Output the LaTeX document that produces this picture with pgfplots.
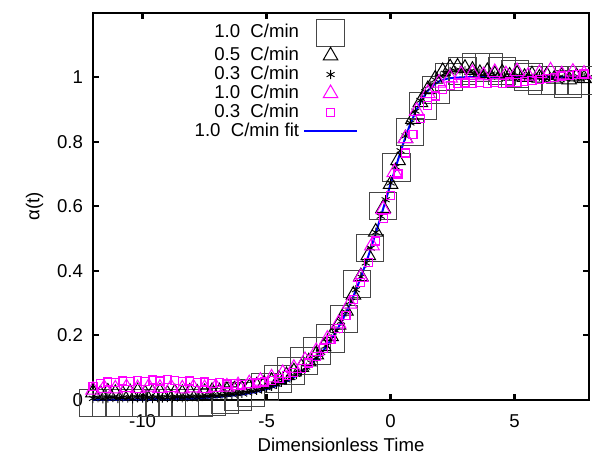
\documentclass[border=0pt]{standalone}
\usepackage{fontspec}
\setmainfont{Liberation Sans}
\usepackage{pgfplots}
\pgfplotsset{compat=1.18}
\definecolor{sqgray}{RGB}{70,70,70}
\definecolor{gmag}{RGB}{255,0,255}
\definecolor{gblue}{RGB}{0,0,255}
\pgfplotsset{
  marklegend/.style={legend image code/.code={\draw[mark repeat=2,mark phase=2,##1] plot coordinates {(0pt,0pt) (13.25pt,0pt) (26.5pt,0pt)};}},
  linelegend/.style={legend image code/.code={\draw[##1] (0pt,0pt) -- (26.5pt,0pt);}},
}
\begin{document}
\begin{tikzpicture}[font=\fontsize{9.3}{11}\selectfont]
\begin{axis}[
  scale only axis,
  width=248pt, height=193.5pt,
  xmin=-12, xmax=8, ymin=0, ymax=1.2,
  xtick={-10,-5,0,5},
  ytick={0,0.2,0.4,0.6,0.8,1},
  yticklabels={0,0.2,0.4,0.6,0.8,1},
  tick align=inside,
  major tick length=3pt,
  minor tick num=0,
  axis line style={line width=1.2pt},
  every tick/.style={line width=1.2pt, black},
  /pgf/number format/assume math mode=true,
  xticklabel shift=4pt,
  yticklabel shift=1.5pt,
  xlabel={Dimensionless Time},
  ylabel={α(t)},
  xlabel style={yshift=1.6pt},
  clip=false,
  legend plot pos=right,
  legend cell align=right,
  legend style={at={(0.184,0.995)}, anchor=north west, draw=none, fill=none,
    nodes={inner ysep=0.6pt, inner xsep=2pt}, row sep=0pt},
]
\coordinate (SW) at (rel axis cs:0,0);
\coordinate (NE) at (rel axis cs:1,1);

% 1.0 C/min (large grey squares)
\addplot[only marks, mark=square, mark size=6.8pt, mark options={draw=sqgray, line width=0.5pt}, marklegend] coordinates {
(-12.00,-0.010) (-11.47,-0.010) (-10.94,-0.010) (-10.40,-0.010) (-9.87,-0.010)
(-9.34,-0.010) (-8.81,-0.010) (-8.28,-0.010) (-7.74,-0.010) (-7.21,-0.006)
(-6.68,0.000) (-6.15,0.010) (-5.62,0.020) (-5.08,0.040) (-4.55,0.065)
(-4.02,0.090) (-3.49,0.120) (-2.96,0.150) (-2.42,0.190) (-1.89,0.250)
(-1.36,0.360) (-0.83,0.470) (-0.30,0.600) (0.24,0.720) (0.77,0.830)
(1.30,0.910) (1.83,0.960) (2.36,1.000) (2.90,1.020) (3.43,1.030)
(3.96,1.030) (4.49,1.020) (5.02,1.010) (5.56,1.000) (6.09,0.990)
(6.62,0.990) (7.15,0.980) (7.68,0.990)
};
\addlegendentry{1.0\ \ C/min}

% 0.5 C/min (black triangles)
\addplot[only marks, mark=triangle, mark size=4.2pt, mark options={draw=black, line width=0.5pt}, marklegend] coordinates {
(-12.0,0.022) (-11.7,0.018) (-11.4,0.024) (-11.1,0.020) (-10.8,0.017) (-10.5,0.022)
(-10.2,0.025) (-9.9,0.019) (-9.6,0.021) (-9.3,0.024) (-9.0,0.018) (-8.7,0.022)
(-8.4,0.020) (-8.1,0.024) (-7.8,0.021) (-7.5,0.023) (-7.2,0.026) (-6.9,0.025)
(-6.6,0.029) (-6.3,0.031) (-6.0,0.034) (-5.7,0.038) (-5.4,0.043) (-5.1,0.049)
(-4.8,0.057) (-4.5,0.064) (-4.2,0.075) (-3.9,0.087) (-3.6,0.101) (-3.3,0.118)
(-3.0,0.140) (-2.7,0.165) (-2.4,0.196) (-2.1,0.232) (-1.8,0.275) (-1.5,0.325)
(-1.2,0.382) (-0.9,0.447) (-0.6,0.520) (-0.3,0.594) (0.0,0.668) (0.3,0.742)
(0.6,0.810) (0.9,0.870) (1.2,0.922) (1.5,0.962) (1.8,0.995) (2.1,1.018)
(2.4,1.030) (2.7,1.032) (3.0,1.028) (3.3,1.022) (3.6,1.012) (3.9,1.018)
(4.2,1.008) (4.5,1.014) (4.8,1.004) (5.1,1.010) (5.4,1.000) (5.7,1.008)
(6.0,0.998) (6.3,1.006) (6.6,0.995) (6.9,1.004) (7.2,0.992) (7.5,1.002) (7.8,0.996)
};
\addlegendentry{0.5\ \ C/min}

% 0.3 C/min (black asterisks)
\addplot[only marks, mark=asterisk, mark size=2.3pt, mark options={draw=black, line width=0.45pt}, marklegend] coordinates {
(-12.0,0.004) (-11.8,0.006) (-11.6,0.003) (-11.4,0.005) (-11.2,0.007) (-11.0,0.004)
(-10.8,0.006) (-10.6,0.005) (-10.4,0.003) (-10.2,0.006) (-10.0,0.005) (-9.8,0.007)
(-9.6,0.004) (-9.4,0.006) (-9.2,0.005) (-9.0,0.007) (-8.8,0.005) (-8.6,0.008)
(-8.4,0.006) (-8.2,0.008) (-8.0,0.009) (-7.8,0.008) (-7.6,0.010) (-7.4,0.011)
(-7.2,0.012) (-7.0,0.012) (-6.8,0.014) (-6.6,0.016) (-6.4,0.017) (-6.2,0.019)
(-6.0,0.020) (-5.8,0.023) (-5.6,0.026) (-5.4,0.029) (-5.2,0.033) (-5.0,0.037)
(-4.8,0.042) (-4.6,0.048) (-4.4,0.054) (-4.2,0.061) (-4.0,0.069) (-3.8,0.078)
(-3.6,0.089) (-3.4,0.101) (-3.2,0.114) (-3.0,0.130) (-2.8,0.147) (-2.6,0.167)
(-2.4,0.189) (-2.2,0.214) (-2.0,0.243) (-1.8,0.272) (-1.6,0.305) (-1.4,0.341)
(-1.2,0.381) (-1.0,0.424) (-0.8,0.470) (-0.6,0.519) (-0.4,0.569) (-0.2,0.620)
(0.0,0.672) (0.2,0.722) (0.4,0.772) (0.6,0.818) (0.8,0.858) (1.0,0.895)
(1.2,0.928) (1.4,0.955) (1.6,0.975) (1.8,0.992) (2.0,1.004) (2.2,1.012)
(2.4,1.018) (2.6,1.020) (2.8,1.022) (3.0,1.020) (3.2,1.018) (3.4,1.016)
(3.6,1.012) (3.8,1.010) (4.0,1.008) (4.2,1.006) (4.4,1.007) (4.6,1.004)
(4.8,1.005) (5.0,1.003) (5.2,1.004) (5.4,1.002) (5.6,1.003) (5.8,1.001)
(6.0,1.002) (6.2,1.000) (6.4,1.001) (6.6,0.999) (6.8,1.000) (7.0,0.998)
(7.2,1.000) (7.4,0.999) (7.6,1.001) (7.8,0.999) (8.0,1.000)
};
\addlegendentry{0.3\ \ C/min}

% 1.0 C/min (magenta triangles)
\addplot[only marks, mark=triangle, mark size=4.2pt, mark options={draw=gmag, line width=0.5pt}, marklegend] coordinates {
(-12.00,0.030) (-11.55,0.036) (-11.10,0.034) (-10.65,0.038) (-10.20,0.035)
(-9.75,0.040) (-9.30,0.036) (-8.85,0.038) (-8.40,0.034) (-7.95,0.037)
(-7.50,0.035) (-7.05,0.039) (-6.60,0.040) (-6.15,0.044) (-5.70,0.050)
(-5.25,0.058) (-4.80,0.068) (-4.35,0.082) (-3.90,0.098) (-3.45,0.122)
(-3.00,0.150) (-2.55,0.188) (-2.10,0.236) (-1.65,0.297) (-1.20,0.380)
(-0.75,0.478) (-0.30,0.590) (0.15,0.705) (0.60,0.810) (1.05,0.895)
(1.50,0.950) (1.95,0.982) (2.40,0.998) (2.85,1.008) (3.30,1.012)
(3.75,1.005) (4.20,1.015) (4.65,1.008) (5.10,1.018) (5.55,1.004)
(6.00,1.012) (6.45,1.020) (6.90,1.008) (7.35,1.016) (7.80,1.010)
};
\addlegendentry{1.0\ \ C/min}

% 0.3 C/min (magenta small squares)
\addplot[only marks, mark=square, mark size=2pt, color=gmag, mark options={draw=gmag, line width=0.6pt}, marklegend] coordinates {
(-12.0,0.042) (-11.7,0.050) (-11.4,0.055) (-11.1,0.053) (-10.8,0.058) (-10.5,0.056)
(-10.2,0.060) (-9.9,0.057) (-9.6,0.061) (-9.3,0.058) (-9.0,0.062) (-8.7,0.060)
(-8.4,0.056) (-8.1,0.058) (-7.8,0.054) (-7.5,0.055) (-7.2,0.051) (-6.9,0.053)
(-6.6,0.049) (-6.3,0.051) (-6.0,0.048) (-5.7,0.050) (-5.4,0.052) (-5.1,0.055)
(-4.8,0.060) (-4.5,0.066) (-4.2,0.074) (-3.9,0.085) (-3.6,0.098) (-3.3,0.114)
(-3.0,0.134) (-2.7,0.158) (-2.4,0.187) (-2.1,0.222) (-1.8,0.262) (-1.5,0.310)
(-1.2,0.364) (-0.9,0.425) (-0.6,0.492) (-0.3,0.562) (0.0,0.632) (0.3,0.700)
(0.6,0.765) (0.9,0.822) (1.2,0.872) (1.5,0.912) (1.8,0.942) (2.1,0.962)
(2.4,0.974) (2.7,0.980) (3.0,0.982) (3.3,0.980) (3.6,0.984) (3.9,0.981)
(4.2,0.983) (4.5,0.980) (4.8,0.985) (5.1,0.983) (5.4,0.987) (5.7,0.990)
(6.0,0.993) (6.3,0.997) (6.6,1.000) (6.9,1.004) (7.2,1.006) (7.5,1.008) (7.8,1.010)
};
\addlegendentry{0.3\ \ C/min}

% fit
\addplot[gblue, line width=1pt, no markers, linelegend] coordinates {
(-12,0.0003) (-11,0.0005) (-10,0.001) (-9,0.002) (-8,0.004) (-7.5,0.006)
(-7,0.008) (-6.5,0.012) (-6,0.016) (-5.75,0.0195) (-5.5,0.023) (-5.25,0.028)
(-5,0.033) (-4.75,0.039) (-4.5,0.046) (-4.25,0.055) (-4,0.065) (-3.75,0.077)
(-3.5,0.091) (-3.25,0.107) (-3,0.127) (-2.75,0.149) (-2.5,0.175) (-2.25,0.205)
(-2,0.239) (-1.75,0.277) (-1.5,0.321) (-1.25,0.369) (-1,0.422) (-0.75,0.480)
(-0.5,0.541) (-0.25,0.605) (0,0.669) (0.25,0.732) (0.5,0.792) (0.75,0.846)
(1,0.892) (1.25,0.929) (1.5,0.958) (1.75,0.977) (2,0.989) (2.25,0.995)
(2.5,0.998) (3,1.0) (4,1.0) (5,1.0) (6,1.0) (7,1.0) (8,1.0)
};
\addlegendentry{1.0\ \ C/min fit}
\end{axis}
\path (SW) ++(-46.5pt,-27.8pt) coordinate (BBA);
\path (NE) ++(1.5pt,6.35pt) coordinate (BBB);
\pgfresetboundingbox
\path (BBA) rectangle (BBB);
\end{tikzpicture}
\end{document}
